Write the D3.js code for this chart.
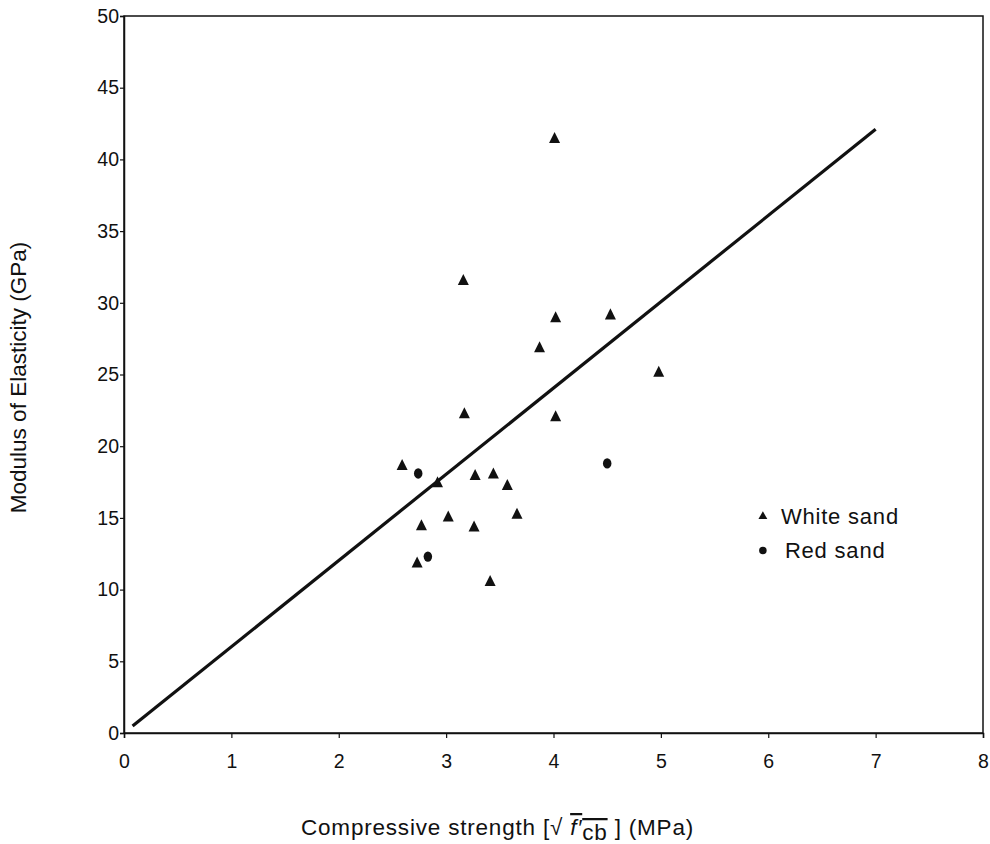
<!DOCTYPE html>
<html>
<head>
<meta charset="utf-8">
<script src="https://cdn.jsdelivr.net/npm/d3@7"></script>
<style>
  body { margin: 0; background: #fff; }
  text { font-family: Arial, "Liberation Sans", sans-serif; fill: #111; }
</style>
</head>
<body>
<div id="chart"></div>
<script>
// data
var whiteX = [4.01, 3.16, 4.02, 4.53, 3.87, 4.98, 3.17, 4.02, 2.59, 2.92, 3.27, 3.44, 3.57, 2.77, 3.02, 3.26, 3.66, 2.73, 3.41];
var whiteY = [41.4, 31.5, 28.9, 29.1, 26.8, 25.1, 22.2, 22.0, 18.6, 17.4, 17.9, 18.0, 17.2, 14.4, 15.0, 14.3, 15.2, 11.8, 10.5];
var redX = [2.74, 2.83, 4.50];
var redY = [18.1, 12.3, 18.8];
var fitX = [0.08, 7.0];
var fitY = [0.48, 42.1];
var xTicks = [0, 1, 2, 3, 4, 5, 6, 7, 8];
var yTicks = [0, 5, 10, 15, 20, 25, 30, 35, 40, 45, 50];
var legendNames = ["White sand", "Red sand"];

var margin = {top: 16, right: 7, bottom: 111, left: 124},
    width = 990 - margin.left - margin.right,
    height = 844 - margin.top - margin.bottom;

var x = d3.scaleLinear().domain([0, 8]).range([0, width]);
var y = d3.scaleLinear().domain([0, 50]).range([height, 0]);

var svg = d3.select("#chart").append("svg")
    .attr("width", 990)
    .attr("height", 844)
  .append("g")
    .attr("transform", "translate(" + margin.left + "," + margin.top + ")");

// frame
svg.append("rect")
    .attr("width", width)
    .attr("height", height)
    .attr("fill", "none")
    .attr("stroke", "#111")
    .attr("stroke-width", 1.5);

var xAxis = d3.axisBottom(x).tickValues(xTicks).tickSize(5).tickPadding(16).tickFormat(d3.format("d"));
var yAxis = d3.axisLeft(y).tickValues(yTicks).tickSize(4).tickPadding(1).tickFormat(d3.format("d"));

var gx = svg.append("g")
    .attr("transform", "translate(0," + height + ")")
    .call(xAxis);
var gy = svg.append("g").call(yAxis);

[gx, gy].forEach(function(g) {
  g.select(".domain").attr("stroke", "#111").attr("stroke-width", 1.5);
  g.selectAll(".tick line").attr("stroke", "#111").attr("stroke-width", 1.2);
  g.selectAll(".tick text").attr("font-size", 19.5).attr("fill", "#111")
    .style("font-family", "Arial, 'Liberation Sans', sans-serif");
});

// fitted line
var fit = fitX.map(function(d, i) { return {x: d, y: fitY[i]}; });
svg.append("path")
    .datum(fit)
    .attr("fill", "none")
    .attr("stroke", "#111")
    .attr("stroke-width", 3.2)
    .attr("d", d3.line().x(function(d) { return x(d.x); }).y(function(d) { return y(d.y); }));

var white = whiteX.map(function(d, i) { return {x: d, y: whiteY[i]}; });
var red = redX.map(function(d, i) { return {x: d, y: redY[i]}; });

var tri = d3.symbol().type(d3.symbolTriangle).size(58);
var dot = d3.symbol().type(d3.symbolCircle).size(70);

svg.selectAll(".white")
    .data(white)
  .enter().append("path")
    .attr("class", "white")
    .attr("d", tri)
    .attr("fill", "#111")
    .attr("transform", function(d) { return "translate(" + x(d.x) + "," + y(d.y) + ") scale(0.95,1.1)"; });

svg.selectAll(".red")
    .data(red)
  .enter().append("path")
    .attr("class", "red")
    .attr("d", dot)
    .attr("fill", "#111")
    .attr("transform", function(d) { return "translate(" + x(d.x) + "," + y(d.y) + ") scale(0.9,1.1)"; });

// legend
var legend = svg.append("g")
    .attr("transform", "translate(" + (x(5.95)) + "," + y(15.1) + ")");
var lg = legend.selectAll("g")
    .data(legendNames)
  .enter().append("g")
    .attr("transform", function(d, i) { return "translate(0," + (i * 34) + ")"; });
lg.append("path")
    .attr("d", function(d, i) { return i === 0 ? d3.symbol().type(d3.symbolTriangle).size(34)() : d3.symbol().type(d3.symbolCircle).size(44)(); })
    .attr("fill", "#111");
lg.append("text")
    .attr("x", function(d, i) { return i === 0 ? 18 : 22; })
    .attr("dy", "0.35em")
    .attr("font-size", 22)
    .attr("letter-spacing", 0.8)
    .text(function(d) { return d; });

// axis titles
var xt = svg.append("text")
    .attr("x", width / 2 - 56)
    .attr("y", height + 102)
    .attr("text-anchor", "middle")
    .attr("font-size", 22.5)
    .attr("letter-spacing", 0.8);
xt.append("tspan").text("Compressive strength  [\u221A ");
xt.append("tspan").attr("font-style", "italic")
    .style("text-decoration", "overline").text("f\u2032");
xt.append("tspan").attr("dy", 5).style("text-decoration", "overline").text("cb");
xt.append("tspan").attr("dy", -5).text(" ] (MPa)");

svg.append("text")
    .attr("transform", "translate(" + (-98) + "," + (height / 2 + 3) + ") rotate(-90)")
    .attr("text-anchor", "middle")
    .attr("font-size", 22.5)
    .text("Modulus of Elasticity (GPa)");
</script>
</body>
</html>
